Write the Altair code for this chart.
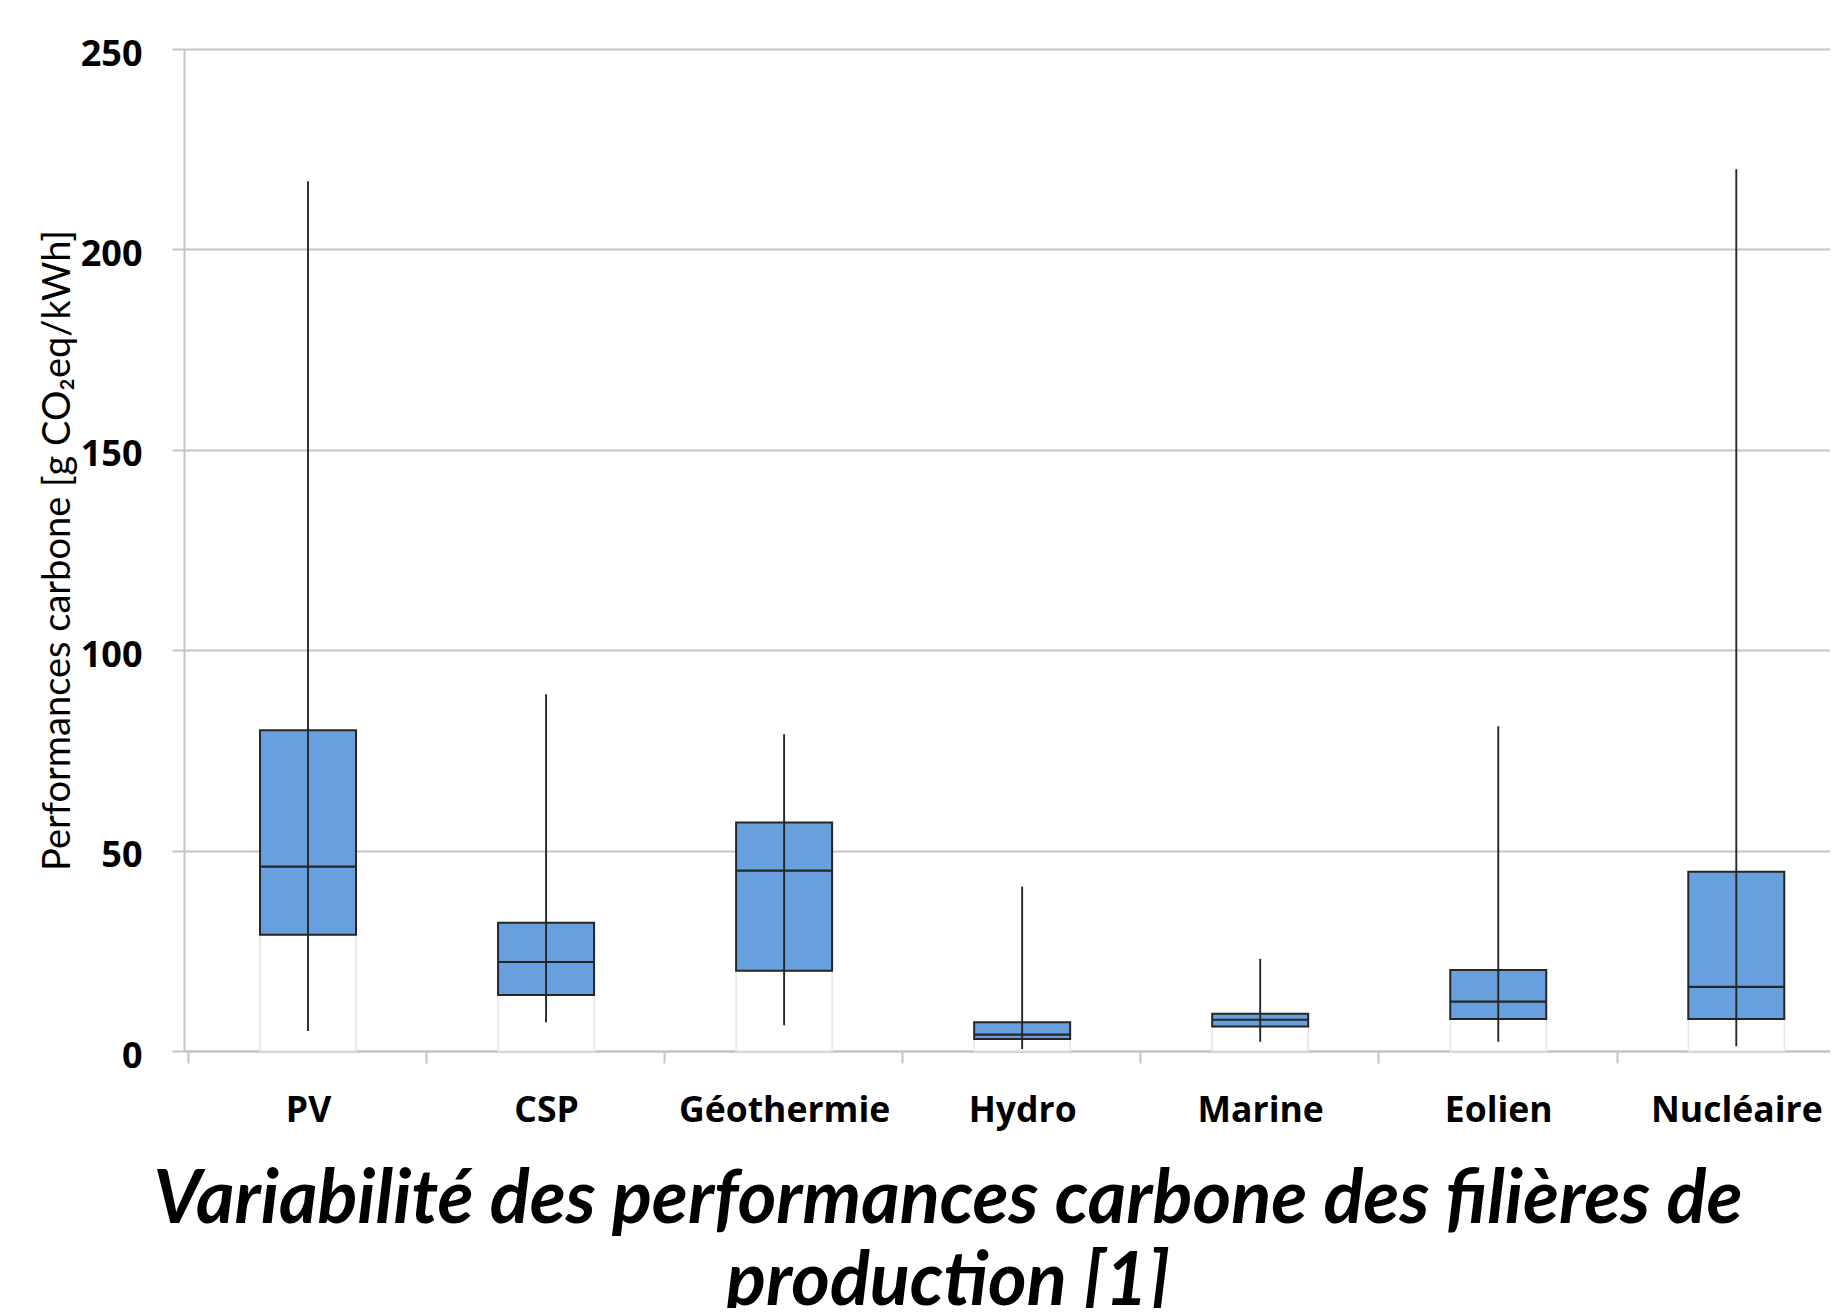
import json
import altair as alt
import pandas as pd

# ---- data ----
categories = ["PV", "CSP", "Géothermie", "Hydro", "Marine", "Eolien", "Nucléaire"]
whisker_low = [5, 7.2, 6.4, 0.5, 2.3, 2.3, 1.2]
q1 = [29, 14, 20, 3.0, 6.1, 8.0, 8.0]
median = [46, 22.2, 45, 4.1, 7.8, 12.3, 16]
q3 = [80, 32, 57, 7.2, 9.3, 20.2, 44.7]
whisker_high = [217, 89, 79, 41, 23, 81, 220]
y_ticks = [0, 50, 100, 150, 200, 250]

df = pd.DataFrame({
    "cat": categories,
    "pos": [i + 0.5 for i in range(len(categories))],
    "low": whisker_low,
    "q1": q1,
    "median": median,
    "q3": q3,
    "high": whisker_high,
})

# ---- layout ----
W, H = 1646, 1002
BAND = 239.5
BOX = 96
GRID = "#c4c4c4"
DARK = "#262626"
FILL = "#67a0dd"

label_expr = json.dumps(categories, ensure_ascii=False) + "[floor(datum.value)]"

x_enc = alt.X(
    "pos:Q",
    scale=alt.Scale(domain=[0, W / BAND], nice=False, zero=False),
    axis=alt.Axis(
        values=[i + 0.5 for i in range(len(categories))],
        labelExpr=label_expr,
        tickOffset=-BAND / 2,
        labelOffset=BAND / 2,
        grid=False,
        domainColor=GRID,
        domainWidth=2,
        tickColor=GRID,
        tickWidth=2,
        tickSize=12,
        labelFont="Open Sans",
        labelFontWeight="bold",
        labelFontSize=35.5,
        labelColor="#000000",
        labelBaseline="alphabetic",
        labelPadding=58,
        labelFlush=False,
        labelOverlap=False,
        labelLimit=0,
        title=None,
    ),
)

y_scale = alt.Scale(domain=[0, 250], nice=False, zero=True)
y_axis = alt.Axis(
    values=y_ticks,
    grid=True,
    gridColor=GRID,
    gridWidth=2,
    domainColor=GRID,
    domainWidth=2,
    tickColor=GRID,
    tickWidth=2,
    tickSize=12,
    labelFont="Open Sans",
    labelFontWeight="bold",
    labelFontSize=36,
    labelColor="#000000",
    labelPadding=30,
    labelOffset=5,
    title="Performances carbone [g CO₂eq/kWh]",
    titleFont="Lato",
    titleFontSize=38,
    titleFontWeight="normal",
    titleColor="#000000",
    titleAngle=270,
    titleX=-126,
    titleY=H / 2,
    titleAlign="center",
    titleBaseline="middle",
)

base = alt.Chart(df).encode(x=x_enc)

ghost = base.mark_bar(size=BOX, fill="white", stroke="#e6e6e6", strokeWidth=1.5).encode(
    y=alt.Y("q1:Q", scale=y_scale, axis=y_axis)
)
box = base.mark_bar(size=BOX, fill=FILL, stroke=DARK, strokeWidth=2).encode(
    y=alt.Y("q1:Q", scale=y_scale, axis=y_axis), y2="q3:Q"
)
med = base.mark_bar(size=BOX, fill=DARK, stroke=DARK, strokeWidth=2.2).encode(
    y=alt.Y("median:Q", scale=y_scale, axis=y_axis), y2="median:Q"
)
whisk = base.mark_rule(color=DARK, strokeWidth=1.9).encode(
    y=alt.Y("low:Q", scale=y_scale, axis=y_axis), y2="high:Q"
)

chart = (
    alt.layer(ghost, box, med, whisk)
    .properties(
        width=W,
        height=H,
        autosize=alt.AutoSizeParams(type="none"),
        padding={"left": 176, "top": 41, "right": 0, "bottom": 257},
        background="white",
        title=alt.TitleParams(
            ["Variabilité des performances carbone des filières de", "production [1]"],
            orient="bottom",
            anchor="middle",
            frame="group",
            font="Lato",
            fontSize=74,
            fontWeight="bold",
            fontStyle="italic",
            color="#000000",
            lineHeight=82,
            offset=36,
            dx=-59,
        ),
    )
    .configure_view(stroke=None)
)

chart.save("out.html", embed_options={"renderer": "svg", "actions": False})
